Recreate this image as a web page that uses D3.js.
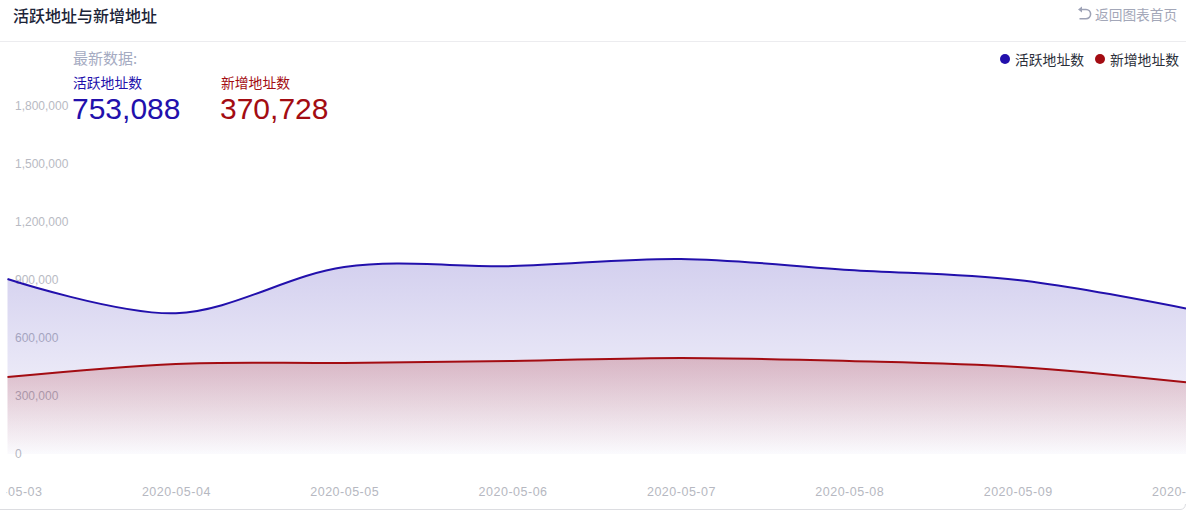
<!DOCTYPE html>
<html>
<head>
<meta charset="utf-8">
<script src="https://cdn.jsdelivr.net/npm/d3@7/dist/d3.min.js"></script>
<style>
  html, body { margin: 0; padding: 0; background: #fff; }
  svg { display: block; }
</style>
</head>
<body>
<svg id="chart" width="1186" height="511"></svg>
<script>
// ---- data ----
const dates = ["2020-05-03", "2020-05-04", "2020-05-05", "2020-05-06", "2020-05-07", "2020-05-08", "2020-05-09", "2020-05-10"];
const activeAddr = [905000, 728000, 967000, 972000, 1009000, 952000, 900000, 753088];
const newAddr = [398000, 466000, 471000, 481000, 497000, 481000, 450000, 370728];
const yTicks = [0, 300000, 600000, 900000, 1200000, 1500000, 1800000];
const seriesNames = ["活跃地址数", "新增地址数"];
const latestLabel = "最新数据:";
const titleText = "活跃地址与新增地址";
const backText = "返回图表首页";

// ---- style ----
const W = 1186, H = 511;
const blue = "#2210ac", red = "#a30c12";
const cjk = "'Noto Sans CJK SC', 'Noto Sans', sans-serif";
const num = "'Liberation Sans', Arial, Helvetica, sans-serif";

const svg = d3.select("#chart");
const defs = svg.append("defs");

function grad(id, color, a0, a1) {
  const g = defs.append("linearGradient").attr("id", id)
    .attr("x1", 0).attr("y1", 0).attr("x2", 0).attr("y2", 1);
  g.append("stop").attr("offset", "0%").attr("stop-color", color).attr("stop-opacity", a0);
  g.append("stop").attr("offset", "100%").attr("stop-color", color).attr("stop-opacity", a1);
}
grad("gBlue", blue, 0.2, 0.02);
grad("gRed", red, 0.22, 0.0);

defs.append("clipPath").attr("id", "xclip")
  .append("rect").attr("x", 6.5).attr("y", 460).attr("width", W).attr("height", 45);

// header
svg.append("text").attr("x", 13).attr("y", 15).attr("dominant-baseline", "central")
  .attr("font-family", cjk).attr("font-size", 16).attr("font-weight", 500)
  .attr("fill", "#1c2438").text(titleText);

svg.append("line").attr("x1", 0).attr("x2", W).attr("y1", 41.5).attr("y2", 41.5)
  .attr("stroke", "#ececef").attr("stroke-width", 1);

// back link
svg.append("path")
  .attr("d", "M1081,9.5 L1086,9.5 A4.6,4.6 0 0 1 1086,18.7 L1079.5,18.7")
  .attr("fill", "none").attr("stroke", "#9da2b6").attr("stroke-width", 1.6);
svg.append("path").attr("d", "M1078,9.5 L1082,6.6 L1082,12.4 Z").attr("fill", "#9da2b6");
svg.append("text").attr("x", 1095).attr("y", 14).attr("dominant-baseline", "central")
  .attr("font-family", cjk).attr("font-size", 13.7).attr("fill", "#a3a7b8").text(backText);

// scales
const x = d3.scalePoint().domain(dates).range([7.5, 1186]);
const y = d3.scaleLinear().domain([0, 1800000]).range([454, 106]);

// y axis labels (inside)
const yAxis = d3.axisRight(y).tickValues(yTicks).tickSize(0).tickPadding(0)
  .tickFormat(d3.format(","));
const gy = svg.append("g").attr("transform", "translate(15,0)").call(yAxis);
gy.select(".domain").remove();
gy.selectAll("text").attr("font-family", num).attr("font-size", 12).attr("fill", "#b8bac3");

// x axis
const xAxis = d3.axisBottom(x).tickSize(0).tickPadding(7);
const gx = svg.append("g").attr("clip-path", "url(#xclip)")
  .append("g").attr("transform", "translate(0,480)").call(xAxis);
gx.select(".domain").remove();
gx.selectAll("text").attr("font-family", num).attr("font-size", 12.5)
  .attr("letter-spacing", "0.5px").attr("fill", "#b6b8c1");

// areas and lines
const curve = d3.curveCardinal.tension(0);
function drawSeries(vals, color, gradId) {
  const pts = dates.map((d, i) => [d, vals[i]]);
  const area = d3.area().x(d => x(d[0])).y0(y(0)).y1(d => y(d[1])).curve(curve);
  const line = d3.line().x(d => x(d[0])).y(d => y(d[1])).curve(curve);
  svg.append("path").datum(pts).attr("d", area).attr("fill", `url(#${gradId})`);
  return () => svg.append("path").datum(pts).attr("d", line)
    .attr("fill", "none").attr("stroke", color).attr("stroke-width", 2);
}
const l1 = drawSeries(activeAddr, blue, "gBlue");
const l2 = drawSeries(newAddr, red, "gRed");
l1(); l2();

// latest data block
svg.append("text").attr("x", 73).attr("y", 57).attr("dominant-baseline", "central")
  .attr("font-family", cjk).attr("font-size", 15).attr("fill", "#a5abc2").text(latestLabel);
const latest = [
  { name: seriesNames[0], value: activeAddr[activeAddr.length - 1], color: blue, x: 73 },
  { name: seriesNames[1], value: newAddr[newAddr.length - 1], color: red, x: 221 }
];
latest.forEach(d => {
  svg.append("text").attr("x", d.x).attr("y", 82).attr("dominant-baseline", "central")
    .attr("font-family", cjk).attr("font-size", 13.8).attr("fill", d.color).text(d.name);
  svg.append("text").attr("x", d.x - 1).attr("y", 118.5)
    .attr("font-family", num).attr("font-size", 30).attr("fill", d.color)
    .text(d3.format(",")(d.value));
});

// legend
const legend = [
  { name: seriesNames[0], color: blue, cx: 1005, tx: 1015 },
  { name: seriesNames[1], color: red, cx: 1100, tx: 1110 }
];
legend.forEach(d => {
  svg.append("circle").attr("cx", d.cx).attr("cy", 59).attr("r", 5).attr("fill", d.color);
  svg.append("text").attr("x", d.tx).attr("y", 59).attr("dominant-baseline", "central")
    .attr("font-family", cjk).attr("font-size", 13.8).attr("fill", "#2b2f3a").text(d.name);
});

// bottom border
svg.append("path").attr("d", `M0,509.5 L${W - 6},509.5 Q${W - 1},509.5 ${W - 0.5},504`)
  .attr("fill", "none").attr("stroke", "#dcdde1").attr("stroke-width", 1);
</script>
</body>
</html>
